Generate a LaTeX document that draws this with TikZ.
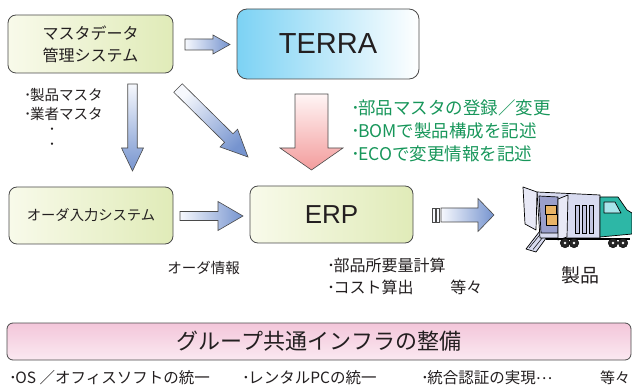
\documentclass[tikz,border=0pt]{standalone}
\usepackage{fontspec}
\setmainfont{Noto Sans CJK JP}
\newfontfamily\latinfont{Liberation Sans}
\usetikzlibrary{calc}

\definecolor{ink}{HTML}{231F20}
\definecolor{edge}{HTML}{4A4A4A}
\definecolor{boxlight}{HTML}{F8FAEA}
\definecolor{boxgreen}{HTML}{E0EBB8}
\definecolor{terracyan}{HTML}{7CD2F4}
\definecolor{terramid}{HTML}{A9E1F8}
\definecolor{arrowlight}{HTML}{F6F8FD}
\definecolor{arrowblue}{HTML}{7694CF}
\definecolor{pinklight}{HTML}{FFF5F5}
\definecolor{pinkdeep}{HTML}{F39C9C}
\definecolor{barpink}{HTML}{F3C6DA}
\definecolor{barlight}{HTML}{FBE9F1}
\definecolor{notegreen}{HTML}{17965A}
\definecolor{cargo}{HTML}{D8DBF0}
\definecolor{cargodark}{HTML}{9A9FCB}
\definecolor{crate}{HTML}{E9B466}
\definecolor{cab}{HTML}{2DB7A6}
\definecolor{cabglass}{HTML}{A8E4EA}

% tight half-width bullet
\newcommand\bul{･\kern-0.1em}
% centred ellipsis
\newcommand\cdotsjp{\raisebox{0.3em}{…}}

% block arrow: style, tail, tip, half shaft width, half head width, head length
\newcommand\blockarrow[6]{%
  \coordinate (ba-hb) at ($(#3)!#6!(#2)$);
  \path[#1] ($(#2)!#4!90:(#3)$) -- ($(ba-hb)!#4!90:(#3)$)
    -- ($(ba-hb)!#5!90:(#3)$) -- (#3)
    -- ($(ba-hb)!#5!-90:(#3)$) -- ($(ba-hb)!#4!-90:(#3)$)
    -- ($(#2)!#4!-90:(#3)$) -- cycle;
}

\begin{document}
\begin{tikzpicture}[x=1pt,y=-1pt,
  sysbox/.style={draw=edge, line width=0.8pt, rounded corners=8pt,
    left color=boxlight, right color=boxgreen, text=ink, align=center,
    inner sep=0pt},
  terrabox/.style={draw=edge, line width=0.8pt, rounded corners=10pt,
    left color=terracyan, middle color=terramid, right color=white,
    text=ink, inner sep=0pt},
  infrabar/.style={draw=edge, line width=0.8pt, rounded corners=6pt,
    top color=barpink, bottom color=barlight, text=ink, inner sep=0pt},
  flowh/.style={draw=edge, line width=0.6pt, left color=arrowlight, right color=arrowblue},
  flowv/.style={draw=edge, line width=0.6pt, top color=arrowlight, bottom color=arrowblue},
  flowd/.style={draw=edge, line width=0.6pt, top color=arrowlight, bottom color=arrowblue, shading angle=45},
  flowpink/.style={draw=edge, line width=0.6pt, top color=pinklight, bottom color=pinkdeep},
  label/.style={text=ink, inner sep=0pt},
  note/.style={text=notegreen, inner sep=0pt, align=left},
  truckline/.style={draw=black, line width=0.7pt, line join=round}
]
\useasboundingbox (0,0) rectangle (632,390);

% ---- systems ----
\node[sysbox, minimum width=165pt, minimum height=58pt,
  font=\fontsize{16}{22}\selectfont] (master) at (90.5,44)
  {マスタデータ\\管理システム};
\node[terrabox, minimum width=182pt, minimum height=70pt,
  font=\latinfont\fontsize{29}{32}\selectfont] (terra) at (328,44) {TERRA};
\node[sysbox, minimum width=164pt, minimum height=57pt,
  font=\fontsize{14.3}{18}\selectfont] (order) at (91,215.5) {オーダ入力システム};
\node[sysbox, minimum width=163pt, minimum height=57pt,
  font=\latinfont\fontsize{26}{30}\selectfont] (erp) at (331.5,214.5) {ERP};

% ---- flows between systems ----
\coordinate (m2t-a) at (185,44.5);   \coordinate (m2t-b) at (230,44.5);
\coordinate (m2o-a) at (132.5,84);   \coordinate (m2o-b) at (132.5,171);
\coordinate (m2e-a) at (178,88);     \coordinate (m2e-b) at (248,157);
\coordinate (t2e-a) at (311.5,94);   \coordinate (t2e-b) at (311.5,170);
\coordinate (o2e-a) at (180,216);    \coordinate (o2e-b) at (243,216);
\coordinate (e2p-a) at (441,215);    \coordinate (e2p-b) at (494,215);

\blockarrow{flowh}{m2t-a}{m2t-b}{5.5pt}{9.5pt}{17pt}
\blockarrow{flowv}{m2o-a}{m2o-b}{4.75pt}{11pt}{23pt}
\blockarrow{flowd}{m2e-a}{m2e-b}{6pt}{12.5pt}{27pt}
\blockarrow{flowpink}{t2e-a}{t2e-b}{16.5pt}{31.5pt}{22pt}
\blockarrow{flowh}{o2e-a}{o2e-b}{4.5pt}{14.5pt}{25pt}
\blockarrow{flowh}{e2p-a}{e2p-b}{7pt}{16.5pt}{16pt}
% striped tail of the shipping arrow
\draw[edge, line width=0.6pt, fill=arrowlight] (432,208) rectangle (435,222);
\draw[edge, line width=0.6pt, fill=arrowlight] (436.5,208) rectangle (439.5,222);

% ---- notes ----
\node[label, anchor=west, align=left, font=\fontsize{14.5}{19}\selectfont]
  (mlist) at (24,104) {\bul 製品マスタ\\\bul 業者マスタ};
\node[label, font=\fontsize{14}{14}\selectfont] (dot1) at (52,131) {･};
\node[label, font=\fontsize{14}{14}\selectfont] (dot2) at (52,146) {･};

\node[note, anchor=west, font=\fontsize{17.5}{23}\selectfont] (tnotes) at (351,131)
  {\bul 部品マスタの登録／変更\\\bul BOMで製品構成を記述\\\bul ECOで変更情報を記述};

\node[label, font=\fontsize{14.5}{18}\selectfont] (oinfo) at (203.5,268) {オーダ情報};
\node[label, anchor=west, align=left, font=\fontsize{16}{22}\selectfont]
  (enotes) at (327,276) {\bul 部品所要量計算\\\bul コスト算出\hspace{2.3em}等々};

\node[label, font=\fontsize{19}{22}\selectfont] (product) at (580,275) {製品};

% ---- delivery truck ----
\begin{scope}
  % ramp
  \draw[truckline, fill=cargo] (526,249) -- (536,252) -- (552,230) -- (543,227) -- cycle;
  \draw[black, line width=0.5pt] (529,248) -- (545,228.5);
  \draw[black, line width=0.5pt] (533,249.5) -- (549,229.5);
  % cargo body
  \draw[truckline, fill=cargo] (537,192) -- (600,195) -- (600,238) -- (540,238) -- cycle;
  \draw[truckline, fill=cargodark] (539,196) -- (558,197) -- (558,233) -- (541,233) -- cycle;
  % crates
  \draw[truckline, fill=crate] (545,205) rectangle (556,214);
  \draw[truckline, fill=crate] (546,214) rectangle (557,225);
  % side slots
  \foreach \sx in {575,582,589}
    \draw[black, line width=0.5pt, fill=cargodark!60] (\sx,205) rectangle (\sx+4,233);
  % doors
  \draw[truckline, fill=cargo!60] (523,187) -- (537,192) -- (536,230) -- (525,224) -- cycle;
  \draw[truckline, fill=cargo!60] (558,199) -- (568,195) -- (567,237) -- (558,240) -- cycle;
  % cab
  \draw[truckline, fill=cab] (600,197) -- (618,197) -- (627,210) -- (632,213)
    -- (632,234) -- (600,237) -- cycle;
  \draw[truckline, fill=cabglass] (604,202) -- (615,202) -- (621,213) -- (604,213) -- cycle;
  % chassis and wheels
  \draw[black, line width=1.6pt] (546,239) -- (630,239);
  \foreach \wx in {565,574,613,623}
    \draw[black, fill=black!85] (\wx,243) circle (4.8);
  \foreach \wx in {565,574,613,623}
    \fill[white] (\wx,243) circle (1.3);
\end{scope}

% ---- group infrastructure ----
\node[infrabar, minimum width=624pt, minimum height=37pt,
  font=\fontsize{22}{24}\selectfont] (infra) at (319,341.5) {グループ共通インフラの整備};

\node[label, anchor=west, font=\fontsize{15.5}{18}\selectfont] (i1) at (9,378)
  {\bul OS ／オフィスソフトの統一};
\node[label, anchor=west, font=\fontsize{15.5}{18}\selectfont] (i2) at (242,378)
  {\bul レンタルPCの統一};
\node[label, anchor=west, font=\fontsize{15.5}{18}\selectfont] (i3) at (421,378)
  {\bul 統合認証の実現\cdotsjp};
\node[label, anchor=west, font=\fontsize{15}{18}\selectfont] (i4) at (600,378)
  {等々};
\end{tikzpicture}
\end{document}
